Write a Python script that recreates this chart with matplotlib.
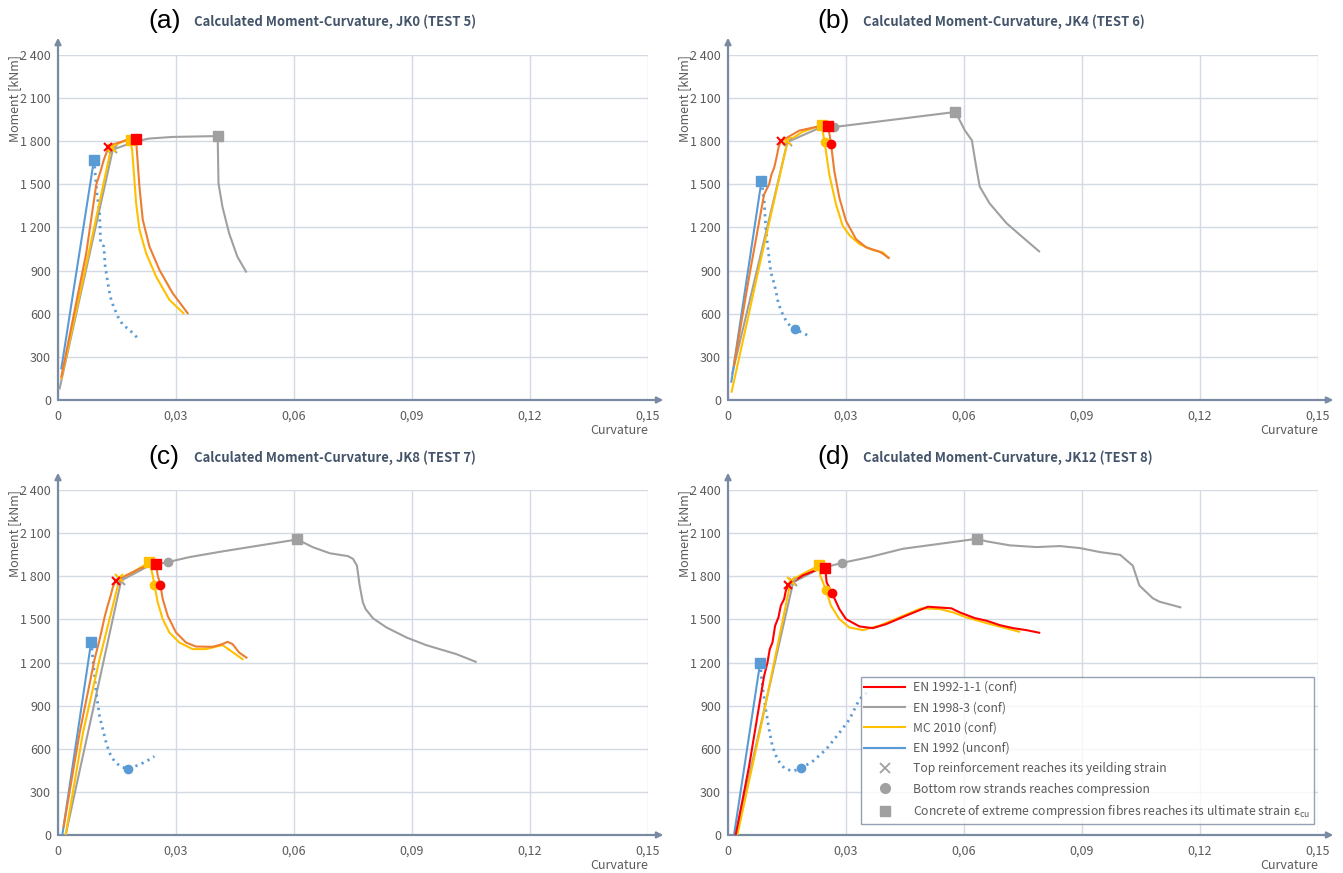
import matplotlib
matplotlib.use('Agg')
import matplotlib.pyplot as plt
from matplotlib.lines import Line2D
from matplotlib.ticker import FuncFormatter, MultipleLocator

# colours used in the original figure
RED = '#FF0000'
ORANGE = '#ED7D31'
GREY = '#A0A0A0'
YELLOW = '#FFC000'
BLUE = '#5B9BD5'
AXIS = '#7A8AA3'
GRID = '#D3DAE5'
TITLE = '#44546A'
TEXT = '#5A5A5A'

# ---------------------------------------------------------------
# (a) JK0 (TEST 5)
# ---------------------------------------------------------------
a_ec2_k = [0.00085, 0.00718, 0.00972, 0.01082, 0.01166, 0.01268, 0.0131, 0.01732, 0.01986,
           0.02003, 0.0207, 0.02155, 0.02324, 0.02577, 0.02915, 0.03296]
a_ec2_m = [163, 1022, 1498, 1591, 1672, 1747, 1770, 1807, 1819,
           1742, 1486, 1254, 1068, 906, 743, 604]
a_ec8_k = [0.00042, 0.01394, 0.01986, 0.02324, 0.02915, 0.0406,
           0.0408, 0.0418, 0.0435, 0.0456, 0.0478]
a_ec8_m = [81, 1742, 1800, 1819, 1830, 1836,
           1508, 1345, 1160, 997, 893]
a_mc_k = [0.00085, 0.00634, 0.01352, 0.01563, 0.01817,
          0.01885, 0.01986, 0.0207, 0.02239, 0.02493, 0.02831, 0.03186]
a_mc_m = [151, 836, 1754, 1788, 1816,
          1742, 1370, 1185, 1022, 859, 697, 604]
a_unc_k = [0.00085, 0.00915]
a_unc_m = [220, 1672]
a_uncd_k = [0.00915, 0.0093, 0.00989, 0.01056, 0.01082, 0.01166, 0.012, 0.01268, 0.01327,
            0.01411, 0.01521, 0.01648, 0.01817, 0.0207]
a_uncd_m = [1672, 1626, 1440, 1301, 1092, 1068, 929, 813, 720,
            650, 581, 523, 488, 418]
a_yield = {'ec2': (0.0128, 1763), 'mc': (0.0137, 1752), 'ec8': (0.0140, 1745)}
a_bottom = {}
a_ultimate = {'unc': (0.00915, 1672), 'mc': (0.01847, 1812),
              'ec2': (0.01983, 1815), 'ec8': (0.0407, 1836)}

# ---------------------------------------------------------------
# (b) JK4 (TEST 6)
# ---------------------------------------------------------------
b_ec2_k = [0.00153, 0.00535, 0.00918, 0.01045, 0.01105, 0.01173, 0.01232, 0.01283, 0.01343,
           0.0181, 0.0232, 0.02533, 0.02575, 0.02618, 0.02703, 0.0283, 0.03, 0.03255,
           0.0351, 0.0385, 0.03952, 0.04088]
b_ec2_m = [242, 854, 1431, 1500, 1569, 1615, 1685, 1754, 1800,
           1874, 1904, 1909, 1858, 1784, 1592, 1408, 1246, 1119,
           1062, 1032, 1015, 988]
b_ec8_k = [0.0011, 0.01513, 0.0232, 0.0270, 0.05762,
           0.0585, 0.0602, 0.062, 0.0631, 0.064, 0.0665, 0.0708, 0.0742, 0.0791]
b_ec8_m = [185, 1795, 1892, 1899, 2003,
           1968, 1876, 1807, 1622, 1484, 1368, 1230, 1149, 1034]
b_mc_k = [0.00093, 0.0079, 0.01513, 0.01895, 0.02388, 0.02422, 0.02456, 0.02575, 0.02745,
          0.02915, 0.03102, 0.0334, 0.0368, 0.03935, 0.04063]
b_mc_m = [58, 923, 1800, 1865, 1915, 1846, 1795, 1569, 1362,
          1212, 1142, 1085, 1043, 1027, 992]
b_unc_k = [0.00085, 0.0085]
b_unc_m = [127, 1523]
b_uncd_k = [0.0085, 0.00875, 0.00918, 0.0096, 0.01003, 0.01088, 0.0113, 0.01215, 0.01283,
            0.01385, 0.0147, 0.01598, 0.01708, 0.01853, 0.02023]
b_uncd_m = [1523, 1477, 1385, 1200, 1085, 888, 854, 762, 669,
            600, 554, 508, 492, 473, 450]
b_yield = {'ec2': (0.01343, 1800), 'mc': (0.0151, 1802), 'ec8': (0.0153, 1795)}
b_bottom = {'unc': (0.01708, 492), 'mc': (0.02456, 1795),
            'ec2': (0.02618, 1784), 'ec8': (0.0270, 1899)}
b_ultimate = {'unc': (0.0085, 1523), 'mc': (0.02388, 1915),
              'ec2': (0.02533, 1909), 'ec8': (0.05762, 2003)}

# ---------------------------------------------------------------
# (c) JK8 (TEST 7)
# ---------------------------------------------------------------
c_ec2_k = [0.00144, 0.00549, 0.0093, 0.01039, 0.01099, 0.01183, 0.01251, 0.01327, 0.01394,
           0.01462, 0.01732, 0.0207, 0.02324, 0.02493, 0.02535, 0.02603, 0.02662, 0.02789,
           0.03, 0.03254, 0.03507, 0.0393, 0.04183, 0.0431, 0.04437, 0.04606, 0.04792]
c_ec2_m = [58, 710, 1223, 1339, 1409, 1514, 1584, 1654, 1723,
           1765, 1805, 1852, 1875, 1882, 1805, 1740, 1642, 1525,
           1409, 1339, 1311, 1309, 1328, 1344, 1328, 1269, 1234]
c_ec8_k = [0.00194, 0.01606, 0.02324, 0.02789, 0.03338, 0.04183, 0.06085,
           0.0648, 0.0691, 0.0737, 0.075, 0.076, 0.0767, 0.0775, 0.0782, 0.0801,
           0.0835, 0.0886, 0.0936, 0.1013, 0.1062]
c_ec8_m = [0, 1770, 1875, 1898, 1933, 1973, 2056,
           2002, 1960, 1940, 1921, 1874, 1735, 1619, 1572, 1507,
           1444, 1374, 1321, 1258, 1205]
c_mc_k = [0.00194, 0.00634, 0.01056, 0.0131, 0.01563, 0.01901, 0.02324, 0.02408, 0.0245,
          0.02535, 0.02662, 0.02831, 0.03085, 0.03423, 0.03761, 0.04183, 0.04394, 0.0469]
c_mc_m = [0, 710, 1223, 1502, 1782, 1828, 1898, 1805, 1742,
          1619, 1502, 1409, 1339, 1293, 1293, 1321, 1281, 1223]
c_unc_k = [0.0011, 0.00845]
c_unc_m = [0, 1346]
c_uncd_k = [0.00845, 0.00887, 0.0093, 0.00972, 0.01014, 0.01056, 0.01141, 0.01225, 0.0131,
            0.01437, 0.01606, 0.01775, 0.0207, 0.02282, 0.02451]
c_uncd_m = [1346, 1223, 1106, 990, 908, 827, 734, 641, 571,
            512, 473, 461, 489, 519, 547]
c_yield = {'ec2': (0.01462, 1765), 'mc': (0.0155, 1785), 'ec8': (0.01606, 1770)}
c_bottom = {'unc': (0.01775, 461), 'mc': (0.0245, 1742),
            'ec2': (0.02603, 1740), 'ec8': (0.02789, 1898)}
c_ultimate = {'unc': (0.00845, 1346), 'mc': (0.02324, 1898),
              'ec2': (0.02493, 1882), 'ec8': (0.06085, 2056)}

# ---------------------------------------------------------------
# (d) JK12 (TEST 8)
# ---------------------------------------------------------------
d_ec2_k = [0.00195, 0.00535, 0.0079, 0.00918, 0.01003, 0.01062, 0.0113, 0.01198, 0.01283,
           0.01343, 0.01428, 0.0147, 0.01538, 0.01895, 0.0232, 0.02473, 0.02507, 0.02643,
           0.0283, 0.03, 0.0334, 0.0368, 0.0402, 0.0453, 0.05082, 0.05677, 0.0589,
           0.06272, 0.0657, 0.0691, 0.0725, 0.0759, 0.07913]
d_ec2_m = [0, 477, 897, 1106, 1199, 1293, 1339, 1456, 1514,
           1595, 1642, 1700, 1740, 1805, 1852, 1856, 1758, 1684,
           1572, 1502, 1451, 1439, 1467, 1526, 1588, 1577, 1549,
           1509, 1491, 1460, 1439, 1425, 1407]
d_ec8_k = [0.00195, 0.01657, 0.0232, 0.02898, 0.03595, 0.04445, 0.0634, 0.0657, 0.07164,
           0.07844, 0.0844, 0.0895, 0.0946, 0.0997, 0.1029, 0.1046, 0.108, 0.1097, 0.115]
d_ec8_m = [0, 1758, 1852, 1893, 1933, 1991, 2061, 2043, 2015,
           2003, 2010, 1996, 1968, 1949, 1874, 1735, 1647, 1623, 1584]
d_mc_k = [0.00238, 0.00875, 0.01598, 0.0198, 0.0232, 0.02346, 0.0249, 0.02618, 0.0283,
          0.03085, 0.03425, 0.0385, 0.0436, 0.04912, 0.0538, 0.0572, 0.0606, 0.0657,
          0.06995, 0.07402]
d_mc_m = [0, 803, 1770, 1828, 1875, 1805, 1705, 1595, 1502,
          1444, 1425, 1456, 1514, 1577, 1572, 1549, 1514, 1474,
          1444, 1414]
d_unc_k = [0.00153, 0.00816]
d_unc_m = [0, 1195]
d_uncd_k = [0.00816, 0.00875, 0.0096, 0.01045, 0.0113, 0.01258, 0.01428, 0.0164, 0.01853,
            0.0215, 0.0249, 0.0283, 0.03085, 0.0334, 0.036]
d_uncd_m = [1195, 1036, 873, 734, 617, 524, 466, 443, 463,
            512, 594, 710, 803, 943, 1010]
d_yield = {'ec2': (0.01538, 1740), 'mc': (0.01598, 1770), 'ec8': (0.01657, 1758)}
d_bottom = {'unc': (0.01853, 463), 'mc': (0.0249, 1705),
            'ec2': (0.02643, 1684), 'ec8': (0.02898, 1893)}
d_ultimate = {'unc': (0.00816, 1195), 'mc': (0.0232, 1875),
              'ec2': (0.02473, 1856), 'ec8': (0.0634, 2061)}

labels = ['(a)', '(b)', '(c)', '(d)']
titles = ['Calculated Moment-Curvature, JK0 (TEST 5)',
          'Calculated Moment-Curvature, JK4 (TEST 6)',
          'Calculated Moment-Curvature, JK8 (TEST 7)',
          'Calculated Moment-Curvature, JK12 (TEST 8)']
legend_labels = ['EN 1992-1-1 (conf)', 'EN 1998-3 (conf)', 'MC 2010 (conf)', 'EN 1992 (unconf)',
                 'Top reinforcement reaches its yeilding strain',
                 'Bottom row strands reaches compression',
                 'Concrete of extreme compression fibres reaches its ultimate strain $\\mathregular{\\epsilon_{cu}}$']

panels = [
    dict(ec2=(a_ec2_k, a_ec2_m), ec8=(a_ec8_k, a_ec8_m), mc=(a_mc_k, a_mc_m),
         unc=(a_unc_k, a_unc_m), uncd=(a_uncd_k, a_uncd_m), ec2_col=ORANGE,
         yld=a_yield, bot=a_bottom, ult=a_ultimate),
    dict(ec2=(b_ec2_k, b_ec2_m), ec8=(b_ec8_k, b_ec8_m), mc=(b_mc_k, b_mc_m),
         unc=(b_unc_k, b_unc_m), uncd=(b_uncd_k, b_uncd_m), ec2_col=ORANGE,
         yld=b_yield, bot=b_bottom, ult=b_ultimate),
    dict(ec2=(c_ec2_k, c_ec2_m), ec8=(c_ec8_k, c_ec8_m), mc=(c_mc_k, c_mc_m),
         unc=(c_unc_k, c_unc_m), uncd=(c_uncd_k, c_uncd_m), ec2_col=ORANGE,
         yld=c_yield, bot=c_bottom, ult=c_ultimate),
    dict(ec2=(d_ec2_k, d_ec2_m), ec8=(d_ec8_k, d_ec8_m), mc=(d_mc_k, d_mc_m),
         unc=(d_unc_k, d_unc_m), uncd=(d_uncd_k, d_uncd_m), ec2_col=RED,
         yld=d_yield, bot=d_bottom, ult=d_ultimate),
]

marker_col = {'ec2': RED, 'ec8': GREY, 'mc': YELLOW, 'unc': BLUE}

plt.rcParams['font.family'] = ['Noto Sans CJK KR', 'DejaVu Sans']

W, H = 1343, 873
fig = plt.figure(figsize=(W / 100, H / 100), dpi=100)

# axes boxes in pixels: left, top of the plotting area (0..0.15 x 0..2400)
boxes = [(58, 55), (728, 55), (58, 490), (728, 490)]
AW, AH = 590, 345


def fmt_y(v, pos):
    if abs(v) < 1e-6:
        return '0'
    return '{:,}'.format(int(round(v))).replace(',', ' ')


def fmt_x(v, pos):
    if abs(v) < 1e-9:
        return '0'
    return '{:.2f}'.format(v).replace('.', ',')


for i, p in enumerate(panels):
    left, top = boxes[i]
    ax = fig.add_axes([left / W, 1 - (top + AH) / H, AW / W, AH / H])
    ax.set_xlim(0, 0.15)
    ax.set_ylim(0, 2400)
    ax.xaxis.set_major_locator(MultipleLocator(0.03))
    ax.yaxis.set_major_locator(MultipleLocator(300))
    ax.xaxis.set_major_formatter(FuncFormatter(fmt_x))
    ax.yaxis.set_major_formatter(FuncFormatter(fmt_y))
    ax.grid(True, color=GRID, lw=1.0)
    ax.set_axisbelow(True)
    for s in ax.spines.values():
        s.set_visible(False)
    ax.tick_params(length=0, labelsize=9, labelcolor=TEXT)
    ax.tick_params(axis='x', pad=7)
    ax.tick_params(axis='y', pad=5)

    # axis arrows
    ax.annotate('', xy=(0, 1.05), xytext=(0, 0), xycoords='axes fraction',
                arrowprops=dict(arrowstyle='-|>', color=AXIS, lw=1.6, mutation_scale=9,
                                shrinkA=0, shrinkB=0), annotation_clip=False)
    ax.annotate('', xy=(1.026, 0), xytext=(0, 0), xycoords='axes fraction',
                arrowprops=dict(arrowstyle='-|>', color=AXIS, lw=1.6, mutation_scale=9,
                                shrinkA=0, shrinkB=0), annotation_clip=False)

    # curves
    ax.plot(*p['ec8'], color=GREY, lw=1.5, zorder=3)
    ax.plot(*p['uncd'], color=BLUE, lw=2.0, ls=(0, (0.8, 1.6)), zorder=3)
    ax.plot(*p['unc'], color=BLUE, lw=1.5, zorder=3)
    ax.plot(*p['mc'], color=YELLOW, lw=1.5, zorder=4)
    ax.plot(*p['ec2'], color=p['ec2_col'], lw=1.5, zorder=5)

    # event markers
    for key in ['ec8', 'mc', 'ec2']:
        if key in p['yld']:
            k, m = p['yld'][key]
            ax.plot([k], [m], ls='none', marker='x', ms=6, mew=1.5,
                    color=marker_col[key], zorder=6)
    for key in ['unc', 'ec8', 'mc', 'ec2']:
        if key in p['bot']:
            k, m = p['bot'][key]
            ax.plot([k], [m], ls='none', marker='o', ms=6, color=marker_col[key], zorder=6)
    for key in ['unc', 'ec8', 'mc', 'ec2']:
        if key in p['ult']:
            k, m = p['ult'][key]
            ax.plot([k], [m], ls='none', marker='s', ms=6.5, color=marker_col[key], zorder=6)

    ax.text(-0.074, 0.875, 'Moment [kNm]', transform=ax.transAxes, rotation=90,
            ha='center', va='center', fontsize=9, color=TEXT)
    ax.text(1.0, -0.087, 'Curvature', transform=ax.transAxes, ha='right', va='center',
            fontsize=9, color=TEXT)

    # panel title
    tx = (148 if i % 2 == 0 else 817) / W
    ty = 1 - (21 if i < 2 else 457) / H
    fig.text(tx, ty, labels[i], family='Liberation Sans', fontsize=19, color='black',
             ha='left', va='center')
    fig.text(tx + 46 / W, ty - 1 / H, titles[i], fontsize=9.4, fontweight='bold',
             color=TITLE, ha='left', va='center')

    if i == 3:
        handles = [Line2D([], [], color=RED, lw=1.5),
                   Line2D([], [], color=GREY, lw=1.5),
                   Line2D([], [], color=YELLOW, lw=1.5),
                   Line2D([], [], color=BLUE, lw=1.5),
                   Line2D([], [], ls='none', marker='x', ms=7, mew=1.3, color=GREY),
                   Line2D([], [], ls='none', marker='o', ms=7, color=GREY),
                   Line2D([], [], ls='none', marker='s', ms=7, color=GREY)]
        leg = ax.legend(handles, legend_labels, loc='upper left', bbox_to_anchor=(0.225, 0.457),
                        fontsize=8.8, frameon=True, fancybox=False, handlelength=3.3,
                        handletextpad=0.7, labelspacing=0.6, borderpad=0.3,
                        borderaxespad=0)
        leg.get_frame().set_edgecolor(AXIS)
        leg.get_frame().set_linewidth(1.0)
        leg.set_zorder(10)
        for t in leg.get_texts():
            t.set_color(TEXT)

fig.savefig('out.png', dpi=100, facecolor='white')
